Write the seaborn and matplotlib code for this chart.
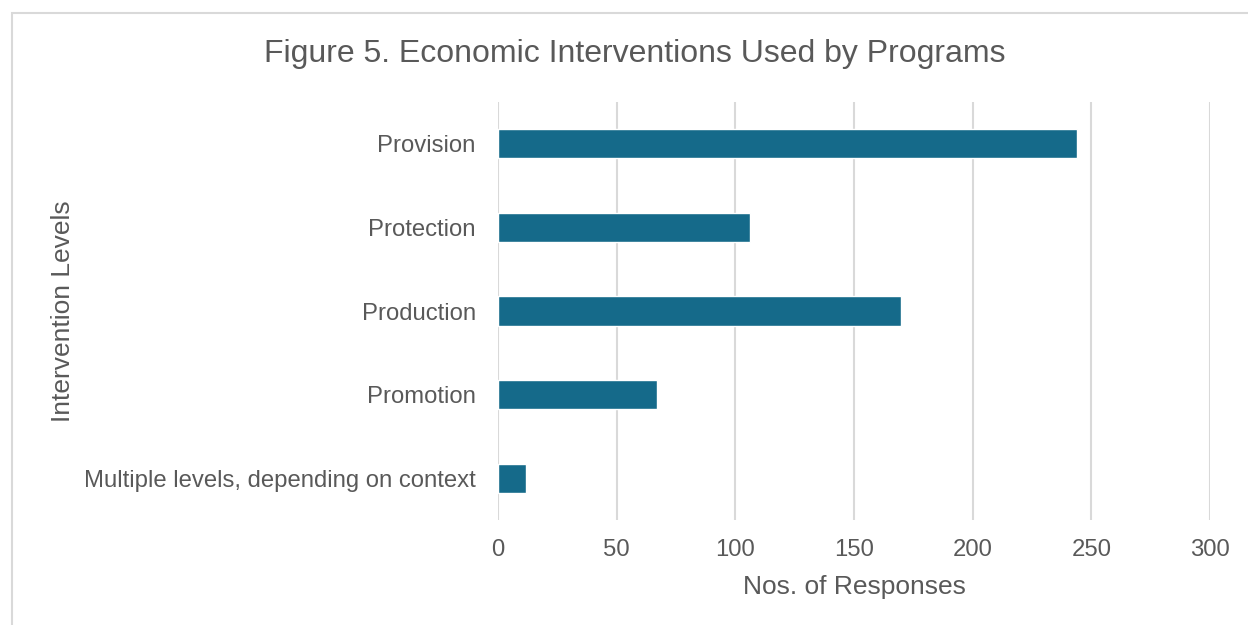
import matplotlib
matplotlib.use("Agg")
import matplotlib.pyplot as plt
import seaborn as sns
import pandas as pd
from matplotlib.patches import Rectangle

categories = ["Provision", "Protection", "Production", "Promotion",
              "Multiple levels, depending on context"]
responses = [244, 106, 170, 67, 12]
xticks = [0, 50, 100, 150, 200, 250, 300]

title = "Figure 5. Economic Interventions Used by Programs"
xlabel = "Nos. of Responses"
ylabel = "Intervention Levels"

bar_color = "#156A8A"
text_color = "#595959"
grid_color = "#D9D9D9"

sns.set_theme(style="white")
plt.rcParams["font.family"] = ["Liberation Sans", "DejaVu Sans"]

df = pd.DataFrame({"cat": categories, "val": responses})

fig = plt.figure(figsize=(12.48, 6.25), dpi=100)
ax = fig.add_axes([498/1248, 1-520/625, (1210-498)/1248, (520-102)/625])

sns.barplot(data=df, x="val", y="cat", orient="h", color=bar_color,
            width=0.35, ax=ax, saturation=1)

ax.set_xlim(0, 300)
ax.set_xticks(xticks)
ax.set_xticklabels([str(t) for t in xticks])
ax.xaxis.grid(True, color=grid_color, linewidth=1.5)
ax.set_axisbelow(True)
for s in ax.spines.values():
    s.set_visible(False)
ax.tick_params(axis="both", length=0, labelsize=17.2, labelcolor=text_color)
ax.tick_params(axis="y", pad=16)
ax.tick_params(axis="x", pad=14)
ax.set_xlabel(xlabel, fontsize=19, color=text_color, labelpad=10)
ax.set_ylabel(ylabel, fontsize=19, color=text_color)
ax.yaxis.set_label_coords((75-498)/712, 0.5)

fig.text(635/1248, 1-54/625, title, ha="center", va="center",
         fontsize=23, color=text_color)

fig.patches.append(Rectangle((12/1248, -0.1), 1.2, 1-13/625+0.1,
                             transform=fig.transFigure, fill=False,
                             edgecolor="#D9D9D9", linewidth=1.5))

fig.savefig("out.png", dpi=100)
